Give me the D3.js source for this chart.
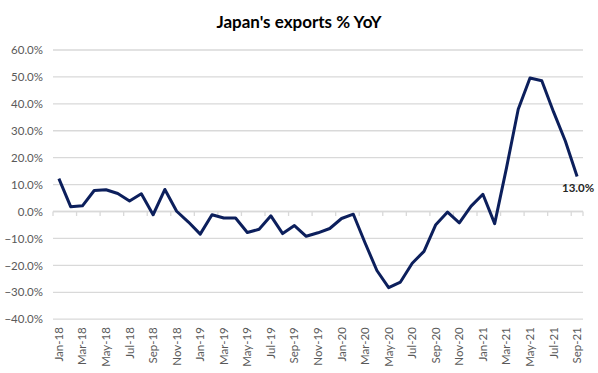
<!DOCTYPE html>
<html>
<head>
<meta charset="utf-8">
<script src="https://cdn.jsdelivr.net/npm/d3@7"></script>
<style>
  html, body { margin: 0; padding: 0; background: #fff; }
  svg { display: block; }
</style>
</head>
<body>
<svg id="chart" width="598" height="373"></svg>
<script>
const months = [
  "Jan-18","Feb-18","Mar-18","Apr-18","May-18","Jun-18","Jul-18","Aug-18","Sep-18","Oct-18","Nov-18","Dec-18",
  "Jan-19","Feb-19","Mar-19","Apr-19","May-19","Jun-19","Jul-19","Aug-19","Sep-19","Oct-19","Nov-19","Dec-19",
  "Jan-20","Feb-20","Mar-20","Apr-20","May-20","Jun-20","Jul-20","Aug-20","Sep-20","Oct-20","Nov-20","Dec-20",
  "Jan-21","Feb-21","Mar-21","Apr-21","May-21","Jun-21","Jul-21","Aug-21","Sep-21"
];
const exportsYoY = [
  12.2, 1.8, 2.1, 7.8, 8.1, 6.7, 3.9, 6.6, -1.2, 8.2, 0.1, -3.9,
  -8.4, -1.2, -2.4, -2.4, -7.8, -6.6, -1.6, -8.2, -5.2, -9.2, -7.9, -6.3,
  -2.6, -1.0, -11.7, -21.9, -28.3, -26.2, -19.2, -14.8, -4.9, -0.2, -4.2, 2.0,
  6.4, -4.5, 16.1, 38.0, 49.6, 48.6, 37.0, 26.2, 13.0
];
const yTicks = [60, 50, 40, 30, 20, 10, 0, -10, -20, -30, -40];
const xTickLabels = months.filter((m, i) => i % 2 === 0);
const titleText = "Japan's exports % YoY";
const lastLabel = "13.0%";

const svg = d3.select("#chart");
const FONT = "Lato, 'Liberation Sans', sans-serif";
const plotLeft = 53, plotRight = 583, plotTop = 50, plotBottom = 319.2;

const x = d3.scaleBand().domain(months).range([plotLeft, plotRight]).padding(0);
const y = d3.scaleLinear().domain([-40, 60]).range([plotBottom, plotTop]);

// gridlines
svg.append("g").selectAll("line").data(yTicks).join("line")
  .attr("x1", plotLeft).attr("x2", plotRight)
  .attr("y1", d => y(d)).attr("y2", d => y(d))
  .attr("stroke", "#d9d9d9").attr("stroke-width", 1.3);

// y axis labels
const yAxis = d3.axisLeft(y).tickValues(yTicks).tickSize(0).tickPadding(0)
  .tickFormat(d => d3.format(".1f")(d) + "%");
const gy = svg.append("g").attr("transform", `translate(${plotLeft - 10},0)`).call(yAxis);
gy.select(".domain").remove();
gy.selectAll("text").attr("font-family", FONT).attr("font-size", 11.5).attr("fill", "#595959");

// zero axis line with ticks every 2 categories
const zeroY = y(0);
svg.append("line").attr("x1", plotLeft).attr("x2", plotRight)
  .attr("y1", zeroY).attr("y2", zeroY)
  .attr("stroke", "#d9d9d9").attr("stroke-width", 1.3);
const tickPos = months.filter((m, i) => i % 2 === 0).map(m => x(m));
tickPos.push(plotRight);
svg.append("g").selectAll("line").data(tickPos).join("line")
  .attr("x1", d => d).attr("x2", d => d)
  .attr("y1", zeroY).attr("y2", zeroY + 4.5)
  .attr("stroke", "#d9d9d9").attr("stroke-width", 1.3);

// x axis labels (rotated) at bottom
const xAxis = d3.axisBottom(x).tickValues(xTickLabels).tickSize(0).tickPadding(0);
const gx = svg.append("g").attr("transform", `translate(0,${plotBottom + 8})`).call(xAxis);
gx.select(".domain").remove();
gx.selectAll("text")
  .attr("font-family", FONT).attr("font-size", 11.5).attr("fill", "#595959")
  .attr("transform", "rotate(-90)")
  .attr("text-anchor", "end")
  .attr("dy", "0.35em")
  .attr("x", 0).attr("y", 0);

// line
const line = d3.line()
  .x((d, i) => x(months[i]) + x.bandwidth() / 2)
  .y(d => y(d));
svg.append("path").datum(exportsYoY)
  .attr("d", line)
  .attr("fill", "none")
  .attr("stroke", "#0c1f5c")
  .attr("stroke-width", 3)
  .attr("stroke-linejoin", "round");

// last value label
const lastI = exportsYoY.length - 1;
svg.append("text")
  .attr("x", x(months[lastI]) + x.bandwidth() / 2 + 1)
  .attr("y", y(exportsYoY[lastI]) + 15)
  .attr("text-anchor", "middle")
  .attr("font-family", FONT).attr("font-size", 11.5).attr("font-weight", "bold")
  .attr("fill", "#262626")
  .text(lastLabel);

// title
svg.append("text")
  .attr("x", 299).attr("y", 28)
  .attr("text-anchor", "middle")
  .attr("font-family", FONT).attr("font-size", 17).attr("font-weight", "bold")
  .attr("fill", "#000")
  .text(titleText);
</script>
</body>
</html>
